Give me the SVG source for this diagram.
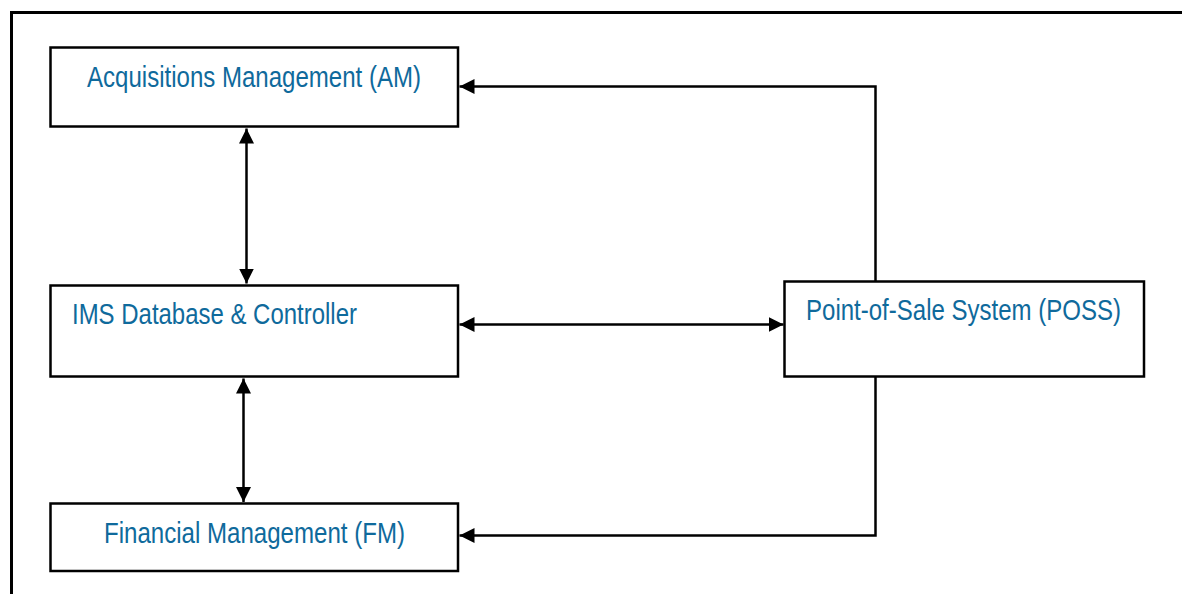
<svg xmlns="http://www.w3.org/2000/svg" width="1182" height="594" viewBox="0 0 1182 594">
<style>
.box{fill:#fff;stroke:#000;stroke-width:2.5}
.lbl{font-family:"Liberation Sans",Arial,sans-serif;font-size:29px;fill:#0f6a9c}
.con{fill:none;stroke:#000;stroke-width:2.5}
</style>
<defs>
<marker id="ah" markerUnits="userSpaceOnUse" markerWidth="16" markerHeight="16" refX="15" refY="7.5" orient="auto-start-reverse" viewBox="0 0 16 15">
<path d="M0,0 L15,7.5 L0,15 Z" fill="#000"/>
</marker>
</defs>
<rect x="0" y="0" width="1182" height="594" fill="#fff"/>
<path d="M11.5,594 V12.5 H1182" fill="none" stroke="#000" stroke-width="3"/>
<g id="am">
<rect class="box" x="50.5" y="47.5" width="407.5" height="79"/>
<text class="lbl" x="87" y="87" textLength="334" lengthAdjust="spacingAndGlyphs">Acquisitions Management (AM)</text>
</g>
<g id="ims">
<rect class="box" x="50.5" y="285.5" width="407.5" height="91"/>
<text class="lbl" x="72" y="324" textLength="285" lengthAdjust="spacingAndGlyphs">IMS Database &amp; Controller</text>
</g>
<g id="fm">
<rect class="box" x="50.5" y="503.5" width="407.5" height="67.5"/>
<text class="lbl" x="104" y="543" textLength="301" lengthAdjust="spacingAndGlyphs">Financial Management (FM)</text>
</g>
<g id="poss">
<rect class="box" x="784.5" y="281.5" width="359.5" height="95"/>
<text class="lbl" x="806" y="320" textLength="315" lengthAdjust="spacingAndGlyphs">Point-of-Sale System (POSS)</text>
</g>
<g id="connectors">
<line class="con" x1="246.5" y1="128.5" x2="246.5" y2="283.5" marker-start="url(#ah)" marker-end="url(#ah)"/>
<line class="con" x1="243.5" y1="378.5" x2="243.5" y2="502" marker-start="url(#ah)" marker-end="url(#ah)"/>
<line class="con" x1="459.5" y1="324.5" x2="783.5" y2="324.5" marker-start="url(#ah)" marker-end="url(#ah)"/>
<path class="con" d="M875.5,281 V86.5 H459.5" marker-end="url(#ah)"/>
<path class="con" d="M875.5,377 V535.5 H459.5" marker-end="url(#ah)"/>
</g>
</svg>
